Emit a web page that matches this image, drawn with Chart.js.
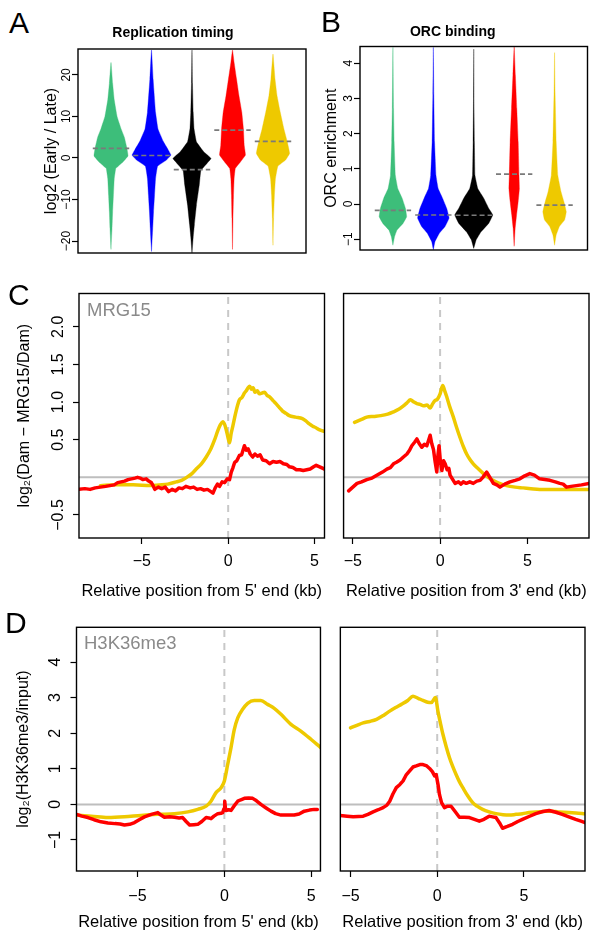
<!DOCTYPE html>
<html>
<head>
<meta charset="utf-8">
<script src="https://cdn.jsdelivr.net/npm/chart.js@4.4.1/dist/chart.umd.min.js"></script>
<style>
  body { margin: 0; background: #fff; width: 599px; height: 941px; position: relative; overflow: hidden;
         font-family: "Liberation Sans", Arial, Helvetica, sans-serif; }
  canvas { position: absolute; }
  .lbl { position: absolute; white-space: nowrap; line-height: 1; z-index: 2; }
  .letter { font-size: 30px; color: #000; }
  .inner { font-size: 18.5px; color: #8a8a8a; }
</style>
</head>
<body>
<canvas id="rt" width="270" height="240" style="left:40px;top:20px"></canvas>
<canvas id="orc" width="275" height="240" style="left:318px;top:20px"></canvas>
<canvas id="mrg5" width="322" height="320" style="left:8px;top:285px"></canvas>
<canvas id="mrg3" width="262" height="320" style="left:335px;top:285px"></canvas>
<canvas id="h3k5" width="318" height="317" style="left:8px;top:619px"></canvas>
<canvas id="h3k3" width="262" height="317" style="left:331px;top:619px"></canvas>

<div class="lbl letter" style="left:9px;top:7.6px">A</div>
<div class="lbl letter" style="left:321px;top:6.6px">B</div>
<div class="lbl letter" style="left:8px;top:279.6px">C</div>
<div class="lbl letter" style="left:5px;top:607.6px">D</div>
<div class="lbl inner" style="left:87px;top:301.3px">MRG15</div>
<div class="lbl inner" style="left:84px;top:634.3px">H3K36me3</div>

<script>
// ---- data ----
const groupPos = [1, 2, 3, 4, 5];

// A: replication timing violins (value levels and half widths)
const rtGreenY = [-22, -17, -13, -9, -5, -2.5, -1, 0.5, 2.5, 5, 7, 10, 14, 18, 23];
const rtGreenW = [0, 0.025, 0.04, 0.06, 0.08, 0.12, 0.29, 0.42, 0.39, 0.33, 0.25, 0.15, 0.08, 0.04, 0];
const rtBlueY = [-22.5, -17, -13, -9, -5, -2, -0.5, 0.7, 2, 4, 7, 11, 19, 26];
const rtBlueW = [0, 0.03, 0.05, 0.075, 0.1, 0.15, 0.37, 0.48, 0.41, 0.29, 0.16, 0.1, 0.04, 0];
const rtBlackY = [-23, -19, -16, -11.3, -6.5, -3, -1.3, -0.1, 1.5, 3.9, 7.1, 11, 18, 26];
const rtBlackW = [0, 0.03, 0.06, 0.11, 0.18, 0.22, 0.37, 0.47, 0.29, 0.11, 0.05, 0.03, 0.012, 0];
const rtRedY = [-22, -14.5, -9, -5, -2.5, -0.9, 0.7, 3, 7, 11, 15, 19, 23, 26];
const rtRedW = [0, 0.012, 0.025, 0.04, 0.07, 0.2, 0.32, 0.29, 0.27, 0.23, 0.16, 0.1, 0.04, 0];
const rtYellowY = [-21, -14.5, -9, -5, -2, -0.5, 1.1, 4, 7, 11, 15, 19, 25];
const rtYellowW = [0, 0.015, 0.035, 0.06, 0.12, 0.31, 0.41, 0.35, 0.27, 0.18, 0.1, 0.05, 0];
const rtMedian = [2.3, 0.6, -2.8, 6.7, 4.0];
const rtTicks = [-20, -10, 0, 10, 20];

// B: ORC binding violins
const orcGreenY = [-1.17, -0.93, -0.74, -0.55, -0.36, -0.12, 0.16, 0.44, 0.82, 1.77, 2.7, 4.45];
const orcGreenW = [0, 0.04, 0.1, 0.25, 0.34, 0.31, 0.23, 0.12, 0.06, 0.03, 0.016, 0];
const orcBlueY = [-1.3, -1.07, -0.83, -0.64, -0.4, -0.12, 0.16, 0.44, 0.82, 1.77, 3.1, 4.45];
const orcBlueW = [0, 0.04, 0.15, 0.29, 0.39, 0.33, 0.23, 0.12, 0.065, 0.03, 0.012, 0];
const orcBlackY = [-1.26, -1.02, -0.79, -0.55, -0.31, -0.12, 0.16, 0.44, 0.82, 1.77, 3, 4.4];
const orcBlackW = [0, 0.06, 0.18, 0.37, 0.47, 0.37, 0.25, 0.1, 0.03, 0.016, 0.006, 0];
const orcRedY = [-1.2, -0.69, -0.31, 0.07, 0.44, 0.82, 1.77, 2.72, 3.67, 4.47];
const orcRedW = [0, 0.025, 0.06, 0.1, 0.13, 0.12, 0.1, 0.065, 0.03, 0];
const orcYellowY = [-1.17, -0.88, -0.64, -0.45, -0.22, 0.07, 0.35, 0.82, 1.77, 3.2, 4.3];
const orcYellowW = [0, 0.04, 0.12, 0.25, 0.29, 0.23, 0.16, 0.08, 0.04, 0.012, 0];
const orcMedian = [-0.18, -0.31, -0.32, 0.85, -0.03];
const orcTicks = [-1, 0, 1, 2, 3, 4];

// C: MRG15 profiles [kb, log2 ratio]
const mrg5Red = [[-8.64,-0.16],[-8.3,-0.15],[-8.0,-0.16],[-7.7,-0.14],[-7.4,-0.13],[-7.1,-0.12],[-6.85,-0.11],[-6.6,-0.1],
  [-6.4,-0.07],[-6.2,-0.06],[-6.0,-0.05],[-5.8,-0.03],[-5.6,-0.02],[-5.4,-0.01],[-5.25,0.0],[-5.1,-0.01],[-4.95,-0.03],
  [-4.75,-0.02],[-4.6,-0.05],[-4.45,-0.07],[-4.35,-0.11],[-4.25,-0.16],[-4.05,-0.13],[-3.85,-0.15],[-3.65,-0.13],
  [-3.45,-0.19],[-3.25,-0.16],[-3.05,-0.18],[-2.85,-0.14],[-2.65,-0.15],[-2.45,-0.12],[-2.2,-0.14],[-2.0,-0.13],
  [-1.8,-0.16],[-1.6,-0.15],[-1.4,-0.17],[-1.2,-0.16],[-1.0,-0.19],[-0.88,-0.21],[-0.75,-0.14],[-0.62,-0.09],
  [-0.5,-0.12],[-0.35,-0.06],[-0.2,-0.07],[-0.05,-0.02],[0.08,-0.03],[0.18,0.07],[0.28,0.13],[0.38,0.2],[0.5,0.22],
  [0.65,0.29],[0.78,0.3],[0.94,0.42],[1.05,0.36],[1.15,0.38],[1.28,0.31],[1.42,0.27],[1.55,0.31],[1.7,0.28],
  [1.85,0.3],[2.0,0.23],[2.2,0.22],[2.4,0.18],[2.6,0.21],[2.8,0.2],[3.0,0.21],[3.2,0.18],[3.4,0.17],[3.55,0.14],
  [3.75,0.13],[3.95,0.1],[4.15,0.1],[4.35,0.09],[4.55,0.1],[4.75,0.11],[4.95,0.14],[5.1,0.16],[5.3,0.14],[5.58,0.11]];
const mrg5Yellow = [[-7.4,-0.11],[-6.5,-0.1],[-5.5,-0.1],[-4.5,-0.11],[-4,-0.1],[-3.5,-0.09],[-3,-0.06],[-2.7,-0.04],
  [-2.4,0.0],[-2.1,0.05],[-1.85,0.11],[-1.55,0.18],[-1.27,0.27],[-1.0,0.38],[-0.8,0.49],[-0.6,0.62],[-0.45,0.7],
  [-0.31,0.74],[-0.2,0.7],[-0.12,0.64],[0.0,0.52],[0.08,0.46],[0.17,0.58],[0.27,0.68],[0.38,0.8],[0.46,0.88],
  [0.55,0.96],[0.65,1.03],[0.8,1.06],[0.94,1.12],[1.05,1.15],[1.15,1.19],[1.25,1.21],[1.35,1.17],[1.45,1.19],
  [1.55,1.13],[1.7,1.15],[1.8,1.11],[1.95,1.12],[2.1,1.13],[2.25,1.09],[2.4,1.07],[2.6,1.02],[2.77,0.98],[3.0,0.92],
  [3.15,0.88],[3.35,0.85],[3.54,0.82],[3.9,0.8],[4.3,0.78],[4.5,0.75],[4.7,0.71],[4.9,0.68],[5.08,0.66],[5.3,0.63],[5.58,0.61]];
const mrg3Red = [[-5.24,-0.18],[-5.0,-0.13],[-4.76,-0.08],[-4.5,-0.06],[-4.2,-0.03],[-3.9,-0.01],[-3.6,0.03],[-3.3,0.07],
  [-3.05,0.11],[-2.85,0.13],[-2.67,0.18],[-2.5,0.2],[-2.29,0.23],[-2.1,0.27],[-1.9,0.31],[-1.75,0.36],[-1.62,0.42],
  [-1.45,0.47],[-1.33,0.51],[-1.2,0.45],[-1.05,0.4],[-0.9,0.44],[-0.76,0.42],[-0.65,0.5],[-0.57,0.56],[-0.48,0.45],
  [-0.38,0.37],[-0.28,0.2],[-0.19,0.07],[-0.12,0.3],[-0.06,0.42],[0.02,0.2],[0.1,0.09],[0.2,0.22],[0.29,0.18],
  [0.4,0.1],[0.5,0.12],[0.57,0.03],[0.7,-0.02],[0.86,-0.08],[1.05,-0.06],[1.2,-0.09],[1.33,-0.06],[1.5,-0.08],
  [1.7,-0.06],[1.9,-0.08],[2.1,-0.05],[2.29,-0.04],[2.45,0.0],[2.67,0.07],[2.85,0.0],[3.05,-0.08],[3.25,-0.1],
  [3.43,-0.13],[3.7,-0.09],[4.0,-0.06],[4.3,-0.04],[4.57,-0.02],[4.85,0.02],[5.14,0.05],[5.4,0.03],[5.7,-0.02],
  [6.0,-0.03],[6.29,-0.04],[6.6,-0.06],[6.86,-0.08],[7.05,-0.09],[7.24,-0.13],[7.5,-0.12],[7.8,-0.11],[8.1,-0.1],[8.53,-0.08]];
const mrg3Yellow = [[-4.9,0.73],[-4.5,0.77],[-4.2,0.8],[-3.8,0.81],[-3.4,0.82],[-3.0,0.84],[-2.67,0.87],[-2.4,0.9],
  [-2.1,0.95],[-1.9,0.99],[-1.7,1.03],[-1.5,1.0],[-1.33,0.98],[-1.15,0.97],[-0.95,0.95],[-0.75,0.96],[-0.57,0.92],
  [-0.42,0.98],[-0.29,1.02],[-0.15,1.04],[0.0,1.11],[0.15,1.22],[0.25,1.16],[0.38,1.07],[0.55,0.94],[0.76,0.8],
  [0.95,0.66],[1.14,0.53],[1.33,0.41],[1.52,0.31],[1.7,0.24],[1.9,0.18],[2.2,0.11],[2.48,0.05],[2.75,0.0],
  [3.05,-0.04],[3.4,-0.08],[3.8,-0.11],[4.3,-0.13],[4.76,-0.14],[5.2,-0.15],[5.7,-0.16],[6.2,-0.16],[6.67,-0.16],
  [7.5,-0.16],[8.53,-0.16]];
const mrgTicks = [-0.5, 0.5, 1.0, 1.5, 2.0];

// D: H3K36me3 profiles [kb, log2 ratio]
const h3k5Red = [[-8.51,-0.28],[-8.2,-0.33],[-7.85,-0.37],[-7.5,-0.43],[-7.1,-0.49],[-6.7,-0.52],[-6.3,-0.54],
  [-6.0,-0.55],[-5.75,-0.58],[-5.45,-0.56],[-5.17,-0.51],[-4.9,-0.43],[-4.6,-0.35],[-4.2,-0.28],[-3.83,-0.23],
  [-3.65,-0.3],[-3.45,-0.36],[-3.15,-0.35],[-2.87,-0.36],[-2.6,-0.38],[-2.4,-0.37],[-2.2,-0.48],[-2.0,-0.58],
  [-1.75,-0.57],[-1.53,-0.56],[-1.3,-0.48],[-1.05,-0.37],[-0.9,-0.38],[-0.77,-0.4],[-0.6,-0.33],[-0.38,-0.26],
  [-0.2,-0.25],[-0.1,-0.23],[-0.02,-0.12],[0.02,0.09],[0.06,-0.1],[0.1,-0.17],[0.25,-0.15],[0.38,-0.17],[0.55,-0.05],
  [0.77,0.09],[0.95,0.13],[1.15,0.17],[1.4,0.18],[1.63,0.17],[1.85,0.1],[2.1,0.0],[2.4,-0.1],[2.68,-0.19],
  [2.95,-0.26],[3.26,-0.3],[3.6,-0.3],[4.02,-0.3],[4.3,-0.27],[4.6,-0.19],[4.9,-0.16],[5.17,-0.14],[5.35,-0.14]];
const h3k5Yellow = [[-8.51,-0.3],[-7.66,-0.33],[-6.7,-0.37],[-5.75,-0.35],[-4.8,-0.31],[-3.83,-0.28],[-2.87,-0.26],
  [-2.1,-0.21],[-1.53,-0.14],[-1.05,-0.05],[-0.77,0.09],[-0.48,0.33],[-0.19,0.47],[0.0,0.66],[0.19,1.12],[0.38,1.59],
  [0.57,2.1],[0.77,2.43],[1.05,2.67],[1.34,2.84],[1.72,2.92],[2.1,2.92],[2.49,2.81],[2.87,2.7],[3.26,2.53],
  [3.83,2.25],[4.4,2.06],[4.98,1.83],[5.53,1.6]];
const h3k3Red = [[-5.59,-0.31],[-5.2,-0.33],[-4.85,-0.35],[-4.55,-0.34],[-4.27,-0.33],[-4.0,-0.28],[-3.7,-0.21],
  [-3.4,-0.15],[-3.12,-0.09],[-2.9,-0.02],[-2.74,0.09],[-2.55,0.3],[-2.36,0.47],[-2.15,0.56],[-1.97,0.66],
  [-1.8,0.82],[-1.59,0.94],[-1.4,1.05],[-1.21,1.08],[-1.0,1.12],[-0.82,1.12],[-0.6,1.08],[-0.44,1.01],[-0.28,0.92],
  [-0.15,0.8],[-0.06,0.84],[0.05,0.55],[0.13,0.28],[0.25,0.05],[0.42,-0.09],[0.6,-0.05],[0.8,-0.05],[1.0,-0.18],
  [1.28,-0.36],[1.55,-0.36],[1.86,-0.37],[2.15,-0.42],[2.43,-0.47],[2.7,-0.42],[3.0,-0.33],[3.2,-0.35],[3.39,-0.37],
  [3.6,-0.52],[3.77,-0.67],[4.05,-0.62],[4.35,-0.56],[4.65,-0.48],[4.92,-0.42],[5.3,-0.34],[5.69,-0.26],[6.1,-0.2],
  [6.46,-0.17],[6.85,-0.22],[7.22,-0.28],[7.6,-0.35],[7.99,-0.42],[8.3,-0.47],[8.53,-0.51]];
const h3k3Yellow = [[-5.0,2.15],[-4.6,2.23],[-4.27,2.29],[-3.9,2.33],[-3.5,2.39],[-3.1,2.5],[-2.74,2.62],[-2.4,2.72],
  [-2.07,2.81],[-1.7,2.92],[-1.4,3.04],[-1.1,2.98],[-0.82,2.92],[-0.55,2.87],[-0.34,2.86],[-0.1,3.0],[0.04,2.62],
  [0.18,2.3],[0.33,1.97],[0.52,1.62],[0.71,1.31],[0.9,1.06],[1.09,0.84],[1.28,0.64],[1.48,0.47],[1.75,0.25],
  [2.05,0.05],[2.3,-0.05],[2.62,-0.14],[3.0,-0.21],[3.39,-0.26],[3.8,-0.29],[4.16,-0.3],[4.55,-0.28],[4.92,-0.26],
  [5.3,-0.23],[5.69,-0.21],[6.1,-0.2],[6.46,-0.19],[7.0,-0.21],[7.6,-0.23],[8.0,-0.24],[8.53,-0.26]];
const h3kTicks = [-1, 0, 1, 2, 3, 4];
const kbTicks = [-5, 0, 5];

// ---- styling ----
const FONT = '"Liberation Sans", Arial, Helvetica, sans-serif';
const groupColors = ['#3DBE7A', '#0000FF', '#000000', '#FF0000', '#EEC900'];
const RED = '#FF0000', GOLD = '#EEC900';
Chart.defaults.font.family = FONT;
Chart.defaults.color = '#000';

const minus = v => (v < 0 ? '\u2212' : '') + Math.abs(v);
const minus1 = v => (v < 0 ? '\u2212' : '') + Math.abs(v).toFixed(1);

// box around the plot region
const frame = {
  id: 'frame',
  afterDraw(chart) {
    const {ctx, chartArea: a} = chart;
    ctx.save();
    ctx.strokeStyle = '#000';
    ctx.lineWidth = 1.4;
    ctx.strokeRect(a.left, a.top, a.right - a.left, a.bottom - a.top);
    ctx.restore();
  }
};

// y tick labels written along the axis, as in the original figure
const rotTicks = {
  id: 'rotTicks',
  afterDraw(chart, args, opts) {
    if (!opts.gap) return;
    const scale = chart.scales.y;
    const ctx = chart.ctx;
    ctx.save();
    ctx.fillStyle = '#000';
    ctx.font = opts.size + 'px ' + FONT;
    ctx.textAlign = 'center';
    ctx.textBaseline = 'middle';
    scale.ticks.forEach(t => {
      ctx.save();
      ctx.translate(chart.chartArea.left - opts.gap, scale.getPixelForValue(t.value));
      ctx.rotate(-Math.PI / 2);
      ctx.fillText(t.label, 0, 0);
      ctx.restore();
    });
    ctx.restore();
  }
};
Chart.register(frame, rotTicks);

function yAxis(min, max, ticks, fmt, width, title, pad) {
  return {
    min, max,
    afterBuildTicks: s => { s.ticks = ticks.map(v => ({value: v})); },
    afterFit: s => { s.width = width; },
    ticks: {display: false, callback: fmt},
    grid: {drawOnChartArea: false, tickLength: 6, tickColor: '#000', tickWidth: 1.2},
    border: {display: false},
    title: {display: true, text: title, color: '#000', font: {size: 16}, padding: {top: pad, bottom: 0}}
  };
}

function kbAxis(min, max, height, tickPad, title) {
  return {
    min, max,
    afterBuildTicks: s => { s.ticks = kbTicks.map(v => ({value: v})); },
    afterFit: s => { s.height = height; },
    ticks: {callback: minus, font: {size: 16}, color: '#000', padding: tickPad, maxRotation: 0, autoSkip: false},
    grid: {drawOnChartArea: false, tickLength: 6, tickColor: '#000', tickWidth: 1.2},
    border: {display: false},
    title: {display: true, text: title, color: '#000', font: {size: 16.5}, padding: {top: 0, bottom: 3.4}}
  };
}

function violin(pos, ys, ws, color) {
  const right = ys.map((y, i) => ({x: pos + ws[i], y}));
  const left = ys.map((y, i) => ({x: pos - ws[i], y})).reverse().slice(1);
  return {
    data: right.concat(left), showLine: true, fill: 'shape', tension: 0.08,
    backgroundColor: color, borderColor: color, borderWidth: 0.35, pointRadius: 0, order: 2
  };
}

function medianDash(pos, m) {
  return {
    data: [{x: pos - 0.45, y: m}, {x: pos + 0.45, y: m}], showLine: true, fill: false,
    borderColor: '#7A7A7A', borderWidth: 1.6, borderDash: [5, 3], pointRadius: 0, order: 1
  };
}

function curve(pairs, color, smooth) {
  return {
    data: pairs.map(([x, y]) => ({x, y})), showLine: true, fill: false,
    borderColor: color, borderWidth: 3.5, pointRadius: 0, tension: 0,
    cubicInterpolationMode: smooth ? 'monotone' : 'default',
    borderJoinStyle: 'round', borderCapStyle: 'round', order: 1
  };
}

function refLines(xmin, xmax, ymin, ymax) {
  return [
    {data: [{x: xmin, y: 0}, {x: xmax, y: 0}], showLine: true, borderColor: '#BEBEBE', borderWidth: 2, pointRadius: 0, order: 5},
    {data: [{x: 0, y: ymin}, {x: 0, y: ymax}], showLine: true, borderColor: '#C8C8C8', borderWidth: 2,
     borderDash: [7, 6], pointRadius: 0, order: 5}
  ];
}

function base(padding, extra) {
  return Object.assign({
    responsive: false, animation: false, devicePixelRatio: 1,
    layout: {padding},
    plugins: {legend: {display: false}, tooltip: {enabled: false}}
  }, extra);
}

// ---- A: replication timing ----
const rtSets = [
  violin(groupPos[0], rtGreenY, rtGreenW, groupColors[0]),
  violin(groupPos[1], rtBlueY, rtBlueW, groupColors[1]),
  violin(groupPos[2], rtBlackY, rtBlackW, groupColors[2]),
  violin(groupPos[3], rtRedY, rtRedW, groupColors[3]),
  violin(groupPos[4], rtYellowY, rtYellowW, groupColors[4])
].concat(groupPos.map((p, i) => medianDash(p, rtMedian[i])));

new Chart(document.getElementById('rt'), {
  type: 'scatter',
  data: {datasets: rtSets},
  options: base({left: 0, right: 4, top: 0, bottom: 7}, {
    plugins: {
      legend: {display: false}, tooltip: {enabled: false},
      title: {display: true, text: 'Replication timing', color: '#000', font: {size: 14, weight: 'bold'},
              padding: {top: 4.6, bottom: 7.6}},
      rotTicks: {gap: 11, size: 12}
    },
    scales: {
      x: {min: 0.185, max: 5.815, display: false},
      y: yAxis(-22.87, 26.23, rtTicks, minus, 38, 'log2 (Early / Late)', 2.4)
    }
  })
});

// ---- B: ORC binding ----
const orcSets = [
  violin(groupPos[0], orcGreenY, orcGreenW, groupColors[0]),
  violin(groupPos[1], orcBlueY, orcBlueW, groupColors[1]),
  violin(groupPos[2], orcBlackY, orcBlackW, groupColors[2]),
  violin(groupPos[3], orcRedY, orcRedW, groupColors[3]),
  violin(groupPos[4], orcYellowY, orcYellowW, groupColors[4])
].concat(groupPos.map((p, i) => medianDash(p, orcMedian[i])));

new Chart(document.getElementById('orc'), {
  type: 'scatter',
  data: {datasets: orcSets},
  options: base({left: 0, right: 5.5, top: 0, bottom: 10}, {
    plugins: {
      legend: {display: false}, tooltip: {enabled: false},
      title: {display: true, text: 'ORC binding', color: '#000', font: {size: 14, weight: 'bold'},
              padding: {top: 3.3, bottom: 6.4}},
      rotTicks: {gap: 11, size: 12}
    },
    scales: {
      x: {min: 0.185, max: 5.815, display: false},
      y: yAxis(-1.306, 4.474, orcTicks, minus, 42, 'ORC enrichment', 4.4)
    }
  })
});

// ---- C: MRG15 ----
const mrgY = [-0.806, 2.443];
new Chart(document.getElementById('mrg5'), {
  type: 'scatter',
  data: {datasets: [curve(mrg5Red, RED, false), curve(mrg5Yellow, GOLD, true)].concat(refLines(-8.64, 5.58, mrgY[0], mrgY[1]))},
  options: base({left: 0, right: 5.5, top: 8.5, bottom: 0}, {
    plugins: {legend: {display: false}, tooltip: {enabled: false}, rotTicks: {gap: 20, size: 16}},
    scales: {
      x: kbAxis(-8.64, 5.58, 67, 8.4, "Relative position from 5' end (kb)"),
      y: yAxis(mrgY[0], mrgY[1], mrgTicks, minus1, 71, 'log\u2082(Dam \u2212 MRG15/Dam)', 7.4)
    }
  })
});

new Chart(document.getElementById('mrg3'), {
  type: 'scatter',
  data: {datasets: [curve(mrg3Red, RED, false), curve(mrg3Yellow, GOLD, true)].concat(refLines(-5.53, 8.53, mrgY[0], mrgY[1]))},
  options: base({left: 8, right: 8, top: 8.5, bottom: 0}, {
    scales: {
      x: kbAxis(-5.53, 8.53, 67, 8.4, "Relative position from 3' end (kb)"),
      y: {min: mrgY[0], max: mrgY[1], display: false}
    }
  })
});

// ---- D: H3K36me3 ----
const h3kY = [-1.871, 4.975];
new Chart(document.getElementById('h3k5'), {
  type: 'scatter',
  data: {datasets: [curve(h3k5Red, RED, false), curve(h3k5Yellow, GOLD, true)].concat(refLines(-8.51, 5.53, h3kY[0], h3kY[1]))},
  options: base({left: 0, right: 5.3, top: 8.3, bottom: 0}, {
    plugins: {legend: {display: false}, tooltip: {enabled: false}, rotTicks: {gap: 21, size: 16}},
    scales: {
      x: kbAxis(-8.51, 5.53, 65, 10.1, "Relative position from 5' end (kb)"),
      y: yAxis(h3kY[0], h3kY[1], h3kTicks, minus, 68.5, 'log\u2082(H3K36me3/input)', 5.9)
    }
  })
});

new Chart(document.getElementById('h3k3'), {
  type: 'scatter',
  data: {datasets: [curve(h3k3Red, RED, false), curve(h3k3Yellow, GOLD, true)].concat(refLines(-5.59, 8.53, h3kY[0], h3kY[1]))},
  options: base({left: 8.3, right: 8, top: 8.3, bottom: 0}, {
    scales: {
      x: kbAxis(-5.59, 8.53, 65, 10.1, "Relative position from 3' end (kb)"),
      y: {min: h3kY[0], max: h3kY[1], display: false}
    }
  })
});
</script>
</body>
</html>
